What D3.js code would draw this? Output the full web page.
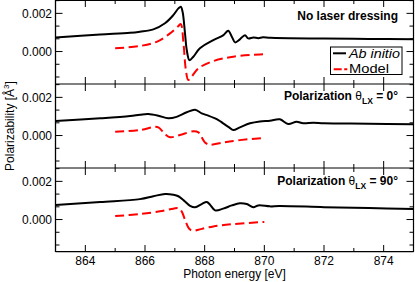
<!DOCTYPE html>
<html><head><meta charset="utf-8">
<script src="https://cdn.jsdelivr.net/npm/d3@7"></script>
<style>
html,body{margin:0;padding:0;background:#fff;}
svg{display:block;font-family:"Liberation Sans",Arial,Helvetica,sans-serif;}
</style></head>
<body>
<svg id="chart" width="415" height="282"></svg>
<script>
// ---------- data ----------
const xTickValues = [864, 866, 868, 870, 872, 874];
const yTickValues = [0.000, 0.002];
const panelLabels = ["No laser dressing", "0°", "90°"];
const legendLabels = ["Ab initio", "Model"];

// Panel 1: no laser dressing
const noLaserAbE = [863.0, 864.5, 865.5, 865.83, 866.28, 866.67, 866.95, 867.12, 867.2, 867.26, 867.34, 867.4, 867.49, 867.62, 867.84, 868.29, 868.63, 868.79, 868.91, 869.02, 869.18, 869.35, 869.46, 869.63, 869.8, 869.95, 870.2, 872.0, 873.5, 875.0];
const noLaserAbV = [0.00074, 0.00089, 0.00098, 0.00104, 0.00116, 0.00148, 0.00191, 0.00226, 0.00235, 0.00208, 0.00097, 0.00008, -0.00045, -0.00027, 0.00017, 0.00060, 0.00086, 0.00109, 0.00078, 0.00048, 0.00064, 0.00086, 0.00069, 0.00074, 0.00070, 0.00075, 0.00072, 0.00068, 0.00066, 0.00064];
const noLaserModelE = [865.0, 865.83, 866.39, 866.84, 867.12, 867.2, 867.29, 867.37, 867.45, 867.56, 867.79, 868.29, 868.96, 869.85, 870.0];
const noLaserModelV = [0.00017, 0.00029, 0.00051, 0.00095, 0.00134, 0.00144, 0.00043, -0.00097, -0.00149, -0.00132, -0.00088, -0.00050, -0.00027, -0.00015, -0.00014];

// Panel 2: polarization 0°
const pol0AbE = [863.0, 864.5, 865.5, 865.83, 866.11, 866.45, 866.78, 867.06, 867.4, 867.68, 867.9, 868.12, 868.46, 868.62, 868.82, 868.96, 869.18, 869.52, 869.85, 870.19, 870.52, 870.8, 871.08, 871.3, 871.64, 872.0, 873.5, 875.0];
const pol0AbV = [0.00076, 0.00090, 0.00102, 0.00109, 0.00113, 0.00104, 0.00090, 0.00098, 0.00122, 0.00135, 0.00116, 0.00104, 0.00081, 0.00064, 0.00043, 0.00029, 0.00043, 0.00064, 0.00074, 0.00078, 0.00085, 0.00060, 0.00072, 0.00064, 0.00067, 0.00064, 0.00062, 0.00059];
const pol0ModelE = [865.0, 865.83, 866.34, 866.45, 866.67, 866.84, 867.17, 867.62, 867.79, 868.01, 868.18, 868.62, 869.18, 869.97, 870.0];
const pol0ModelV = [0.00020, 0.00029, 0.00046, 0.00043, 0.00008, -0.00009, 0.00003, 0.00022, 0.00017, -0.00036, -0.00048, -0.00036, -0.00024, -0.00013, -0.00013];

// Panel 3: polarization 90°
const pol90AbE = [863.0, 864.5, 865.83, 866.28, 866.67, 866.95, 867.12, 867.34, 867.51, 867.68, 867.9, 868.07, 868.18, 868.35, 868.62, 868.91, 869.18, 869.41, 869.63, 869.8, 870.19, 870.5, 872.0, 873.5, 875.0];
const pol90AbV = [0.00076, 0.00092, 0.00107, 0.00122, 0.00134, 0.00130, 0.00122, 0.00095, 0.00072, 0.00064, 0.00081, 0.00092, 0.00078, 0.00048, 0.00057, 0.00074, 0.00085, 0.00081, 0.00065, 0.00074, 0.00069, 0.00071, 0.00065, 0.00060, 0.00055];
const pol90ModelE = [865.0, 865.83, 866.5, 866.95, 867.12, 867.23, 867.34, 867.49, 867.62, 867.79, 868.29, 868.96, 869.97, 870.0];
const pol90ModelV = [0.00018, 0.00029, 0.00043, 0.00057, 0.00060, 0.00043, -0.00001, -0.00050, -0.00059, -0.00053, -0.00036, -0.00024, -0.00013, -0.00013];

// ---------- layout ----------
const svg = d3.select("#chart");
const left = 55.5, right = 413.5, panelH = 84;
const panelTops = [0, 84, 168];
const x = d3.scaleLinear().domain([863, 875]).range([left, right]);

const panels = [
  {ab: [noLaserAbE, noLaserAbV], model: [noLaserModelE, noLaserModelV]},
  {ab: [pol0AbE, pol0AbV], model: [pol0ModelE, pol0ModelV]},
  {ab: [pol90AbE, pol90AbV], model: [pol90ModelE, pol90ModelV]}
];

svg.append("defs").append("clipPath").attr("id","clipAll")
  .append("rect").attr("x", left).attr("y", 0).attr("width", right-left).attr("height", 252);

const xMinor = d3.range(863, 876, 1);
panels.forEach((p, i) => {
  const top = panelTops[i];
  const y = d3.scaleLinear().domain([-0.0017, 0.0027]).range([top + panelH, top]);
  const g = svg.append("g");
  // y ticks minor (every 2/3 of 0.001)
  const yMinor = d3.range(-4, 5).map(k => k * 0.002 / 3).filter(v => y(v) > top + 0.5 && y(v) < top + panelH - 0.5);
  yMinor.forEach(v => {
    const major = yTickValues.some(t => Math.abs(t - v) < 1e-9);
    const len = major ? 7 : 4;
    g.append("line").attr("x1", left).attr("x2", left + len).attr("y1", y(v)).attr("y2", y(v)).attr("stroke", "#000");
    g.append("line").attr("x1", right).attr("x2", right - len).attr("y1", y(v)).attr("y2", y(v)).attr("stroke", "#000");
  });
  yTickValues.forEach(v => {
    g.append("text").attr("x", 52).attr("y", y(v)).attr("dy", "0.36em")
      .attr("text-anchor", "end").attr("font-size", 12).text(d3.format(".3f")(v));
  });
  // x ticks top & bottom
  xMinor.forEach(v => {
    const major = v % 2 === 0;
    const len = major ? 7 : 4;
    g.append("line").attr("x1", x(v)).attr("x2", x(v)).attr("y1", top).attr("y2", top + len).attr("stroke", "#000");
    g.append("line").attr("x1", x(v)).attr("x2", x(v)).attr("y1", top + panelH).attr("y2", top + panelH - len).attr("stroke", "#000");
  });
  // curves
  const line = d3.line().x(d => x(d[0])).y(d => y(d[1])).curve(d3.curveCatmullRom.alpha(0.5));
  const abData = p.ab[0].map((e, k) => [e, p.ab[1][k]]);
  const modelData = p.model[0].map((e, k) => [e, p.model[1][k]]);
  g.append("path").datum(abData).attr("d", line).attr("fill", "none")
    .attr("stroke", "#000").attr("stroke-width", 2).attr("clip-path", "url(#clipAll)");
  g.append("path").datum(modelData).attr("d", line).attr("fill", "none")
    .attr("stroke", "#ff0000").attr("stroke-width", 2).attr("stroke-dasharray", "9,4.5").attr("clip-path", "url(#clipAll)");
});

// frame
svg.append("line").attr("x1", left).attr("x2", left).attr("y1", 0).attr("y2", 252).attr("stroke", "#000").attr("stroke-width", 1.3);
svg.append("line").attr("x1", right).attr("x2", right).attr("y1", 0).attr("y2", 252).attr("stroke", "#000").attr("stroke-width", 1.2);
[0.5, 84, 168].forEach(yy => svg.append("line").attr("x1", left).attr("x2", right).attr("y1", yy).attr("y2", yy).attr("stroke", "#000"));
svg.append("line").attr("x1", left).attr("x2", right).attr("y1", 251.6).attr("y2", 251.6).attr("stroke", "#000").attr("stroke-width", 1.3);

// x tick labels
xTickValues.forEach(v => {
  svg.append("text").attr("x", x(v)).attr("y", 265).attr("text-anchor", "middle").attr("font-size", 12).text(v);
});
svg.append("text").attr("x", (left + right) / 2).attr("y", 277.5).attr("text-anchor", "middle").attr("font-size", 12).text("Photon energy [eV]");

// y title
const yt = svg.append("text").attr("transform", "translate(14,126) rotate(-90)").attr("text-anchor", "middle").attr("font-size", 12);
yt.append("tspan").text("Polarizability [Å");
yt.append("tspan").attr("font-size", 8).attr("dy", -5).text("3");
yt.append("tspan").attr("dy", 5).text("]");

// panel labels
svg.append("text").attr("x", 398).attr("y", 20).attr("text-anchor", "end").attr("font-size", 12).attr("font-weight", "bold").text(panelLabels[0]);
[[1, 100], [2, 185]].forEach(([i, by]) => {
  const t = svg.append("text").attr("x", 398).attr("y", by).attr("text-anchor", "end").attr("font-size", 12).attr("font-weight", "bold");
  t.append("tspan").text("Polarization ");
  t.append("tspan").attr("font-weight", "normal").text("θ");
  t.append("tspan").attr("font-size", 8.5).attr("dy", 4).text("LX");
  t.append("tspan").attr("dy", -4).text(" = " + panelLabels[i]);
});

// legend
const lg = svg.append("g");
lg.append("rect").attr("x", 330.5).attr("y", 47).attr("width", 71.5).attr("height", 27.5).attr("fill", "#fff").attr("stroke", "#000").attr("stroke-width", 1);
lg.append("line").attr("x1", 333).attr("x2", 346).attr("y1", 53.3).attr("y2", 53.3).attr("stroke", "#000").attr("stroke-width", 2);
lg.append("line").attr("x1", 333.7).attr("x2", 347.3).attr("y1", 69.3).attr("y2", 69.3).attr("stroke", "#ff0000").attr("stroke-width", 2).attr("stroke-dasharray", "8,2.5");
lg.append("text").attr("x", 349).attr("y", 57.5).attr("font-size", 12).attr("font-style", "italic").attr("textLength", 51).attr("lengthAdjust", "spacingAndGlyphs").text(legendLabels[0]);
lg.append("text").attr("x", 349).attr("y", 73).attr("font-size", 12).attr("textLength", 40).attr("lengthAdjust", "spacingAndGlyphs").text(legendLabels[1]);
</script>
</body></html>
